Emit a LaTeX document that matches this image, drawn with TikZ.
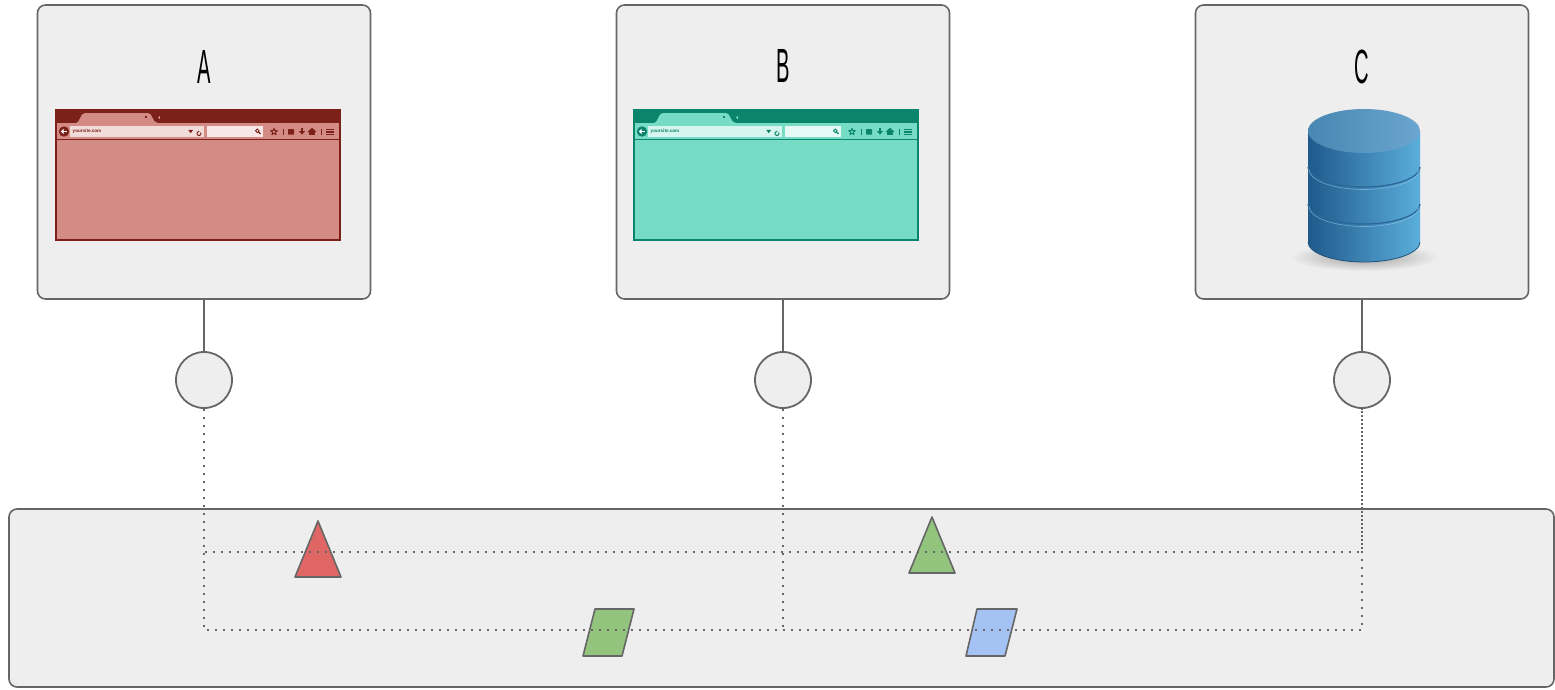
\documentclass[tikz,border=0pt]{standalone}
\usepackage{fontspec}
\setmainfont{Liberation Sans}
\definecolor{panelfill}{HTML}{EEEEEE}
\definecolor{edge}{HTML}{666666}
\definecolor{redfill}{HTML}{E06666}
\definecolor{greenfill}{HTML}{93C47D}
\definecolor{bluefill}{HTML}{A4C2F4}
\definecolor{dbdark}{HTML}{1F5A8C}
\definecolor{dblight}{HTML}{5BAEDB}
\definecolor{dbtop}{HTML}{5096C6}
\definecolor{dbband}{HTML}{2B6797}
\tikzset{
  panel/.style={draw=edge, fill=panelfill, line width=1.6pt, rounded corners=8pt, inner sep=0pt},
  port/.style={circle, draw=edge, fill=panelfill, line width=1.8pt, minimum size=56pt, inner sep=0pt},
  lbl/.style={font=\fontsize{48}{50}\selectfont, xscale=0.42, inner sep=0pt},
  link/.style={draw=edge, line width=2pt},
  dots/.style={draw=edge, line width=2pt, dash pattern=on 2pt off 6pt},
  shp/.style={draw=edge, line width=1.6pt, line join=round},
  pics/browser/.style={code={
    \fill[brdark] (0,0) rectangle (286,132);
    \fill[brcontent] (2,31) rectangle (284,130);
    \fill[brcontent] (2,14) rectangle (284,29.5);
    \fill[brcontent] (21,14) .. controls (25,14) and (25,4) .. (30,4) -- (93,4) .. controls (98,4) and (97,14) .. (103,14) -- cycle;
    \fill[brdark] (89.8,7) rectangle (92.2,9.4);
    \fill[brcontent] (102.6,8.1) rectangle (105.4,8.9);
    \fill[brcontent] (103.6,7.1) rectangle (104.4,9.9);
    \fill[white!70!brcontent] (15,17) rectangle (149,28);
    \fill[brdark] (9,22.5) circle (5.2);
    \fill[white] (5.8,22.5) -- (8.6,19.8) -- (8.6,25.2) -- cycle;
    \fill[white] (8.4,21.6) rectangle (11.6,23.4);
    \node[anchor=west, inner sep=0pt, text=brdark, font=\fontsize{4.6}{5}\selectfont\bfseries] at (17.5,22.6) {yoursite.com};
    \fill[brdark] (133.2,20.8) -- (138.2,20.8) -- (135.7,24.2) -- cycle;
    \draw[brdark, line width=1pt] (145.7,23.5) arc[start angle=-30, end angle=280, radius=2];
    \fill[brfield] (152,17) rectangle (208,28);
    \draw[brdark, line width=0.9pt] (202.3,21.8) circle (1.8);
    \draw[brdark, line width=1.1pt] (203.6,23.1) -- (205.4,24.9);
    \draw[brdark, line width=0.9pt, line join=round, shift={(219,22.8)}] (0,-3.6) -- (0.85,-1.15) -- (3.4,-1.1) -- (1.35,0.45) -- (2.1,2.9) -- (0,1.45) -- (-2.1,2.9) -- (-1.35,0.45) -- (-3.4,-1.1) -- (-0.85,-1.15) -- cycle;
    \fill[brdark] (227.5,19.5) rectangle (228.5,25.8);
    \fill[brdark, rounded corners=0.6pt] (233,20.2) rectangle (239,25.6);
    \fill[brdark] (246,19) rectangle (248,22.5);
    \fill[brdark] (243.8,22) -- (250.2,22) -- (247,25.6) -- cycle;
    \fill[brdark] (252.6,22.8) -- (257,18.8) -- (261.4,22.8) -- cycle;
    \fill[brdark] (254.4,22.5) rectangle (259.6,26);
    \fill[brdark] (265.5,19.5) rectangle (266.5,25.8);
    \fill[brdark] (271,19.6) rectangle (279,21);
    \fill[brdark] (271,22.1) rectangle (279,23.5);
    \fill[brdark] (271,24.6) rectangle (279,26);
  }}
}
\begin{document}
\begin{tikzpicture}[x=1pt, y=-1pt]
\useasboundingbox (0,0) rectangle (1555,689);

% top panels
\node[panel, minimum width=333pt, minimum height=294pt] (boxA) at (204,152) {};
\node[panel, minimum width=333pt, minimum height=294pt] (boxB) at (783,152) {};
\node[panel, minimum width=333pt, minimum height=294pt] (boxC) at (1362,152) {};

\node[lbl] (labA) at (204,67) {A};
\node[lbl] (labB) at (783,66) {B};
\node[lbl] (labC) at (1362,67) {C};

% browsers
\begin{scope}[shift={(55,109)}]
  \definecolor{brdark}{HTML}{7B2119}
  \definecolor{brcontent}{HTML}{D48B85}
  \definecolor{brfield}{HTML}{F7E8E7}
  \pic {browser};
\end{scope}
\begin{scope}[shift={(633,109)}]
  \definecolor{brdark}{HTML}{0A846A}
  \definecolor{brcontent}{HTML}{76DCC6}
  \definecolor{brfield}{HTML}{E6F9F5}
  \pic {browser};
\end{scope}

% database
\shade[inner color=black!38, outer color=panelfill] (1364,257) ellipse (74 and 14);
\shade[left color=dbdark, right color=dblight] (1308,131) -- (1308,242) arc[start angle=180, end angle=0, x radius=56, y radius=20] -- (1420,131) -- cycle;
\draw[dbband, line width=1.3pt] (1308,167) arc[start angle=180, end angle=0, x radius=56, y radius=20];
\draw[dbband, line width=1.3pt] (1308,204) arc[start angle=180, end angle=0, x radius=56, y radius=20];
\draw[dblight!60!white, line width=0.6pt, opacity=0.6] (1309,169.5) arc[start angle=180, end angle=0, x radius=55, y radius=20];
\draw[dblight!60!white, line width=0.6pt, opacity=0.6] (1309,206.5) arc[start angle=180, end angle=0, x radius=55, y radius=20];
\draw[dbband!80!black, line width=0.8pt] (1308,242) arc[start angle=180, end angle=0, x radius=56, y radius=20];
\shade[left color=dbtop!90!black, right color=dbtop!85!white] (1364,131) ellipse (56 and 22);

% ports
\node[port] (pA) at (204,380) {};
\node[port] (pB) at (783,380) {};
\node[port] (pC) at (1362,380) {};
\draw[link] (boxA.south) -- (pA.north);
\draw[link] (boxB.south) -- (pB.north);
\draw[link] (boxC.south) -- (pC.north);

% bottom panel
\node[panel, minimum width=1545pt, minimum height=178pt] (bus) at (781.5,598) {};

% shapes
\draw[shp, fill=redfill] (318,521) -- (341,577) -- (295,577) -- cycle;
\draw[shp, fill=greenfill] (932,517) -- (955,573) -- (909,573) -- cycle;
\draw[shp, fill=greenfill] (595,609) -- (634,609) -- (622,656) -- (583,656) -- cycle;
\draw[shp, fill=bluefill] (977,609) -- (1017,609) -- (1005,656) -- (966,656) -- cycle;

% dotted routes
\coordinate (a1) at (204,552);
\coordinate (a2) at (204,630);
\coordinate (c1) at (1362,552);
\coordinate (c2) at (1362,630);
\coordinate (b2) at (783,630);
\draw[dots] (pA.south) -- (a1) -- (c1) -- (pC.south);
\draw[dots] (pA.south) -- (a2) -- (c2) -- (pC.south);
\draw[dots] (pB.south) -- (b2);
\end{tikzpicture}
\end{document}
